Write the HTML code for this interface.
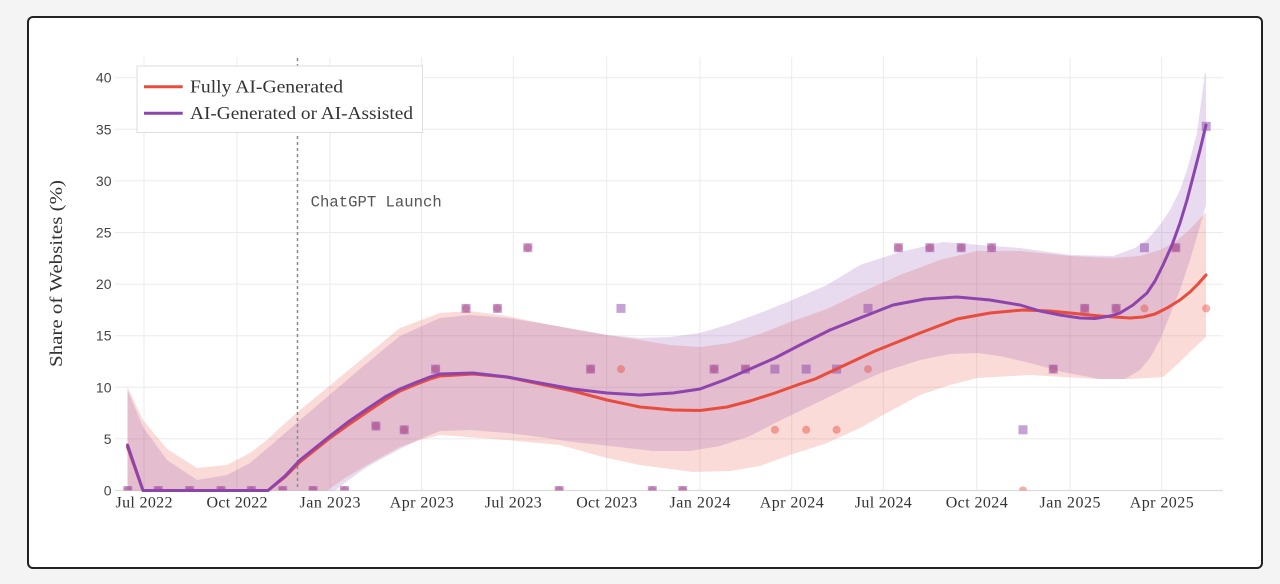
<!DOCTYPE html>
<html>
<head>
<meta charset="utf-8">
<style>
  html,body{margin:0;padding:0;background:#f4f4f4;}
  body{width:1280px;height:584px;overflow:hidden;position:relative;}
  .card{position:absolute;left:27px;top:16px;width:1232px;height:549px;border:2px solid #222;border-radius:6px;background:#fff;}
  svg{position:absolute;left:0;top:0;}
</style>
</head>
<body>
<div class="card"></div>
<svg width="1280" height="584" viewBox="0 0 1280 584" xmlns="http://www.w3.org/2000/svg">
  <defs>
    <clipPath id="plot"><rect x="117" y="57" width="1106" height="433.5"/></clipPath>
  </defs>

  <!-- horizontal gridlines -->
  <g stroke="#ebebeb" stroke-width="1">
    <line x1="115" y1="438.9" x2="1223" y2="438.9"/>
    <line x1="115" y1="387.3" x2="1223" y2="387.3"/>
    <line x1="115" y1="335.7" x2="1223" y2="335.7"/>
    <line x1="115" y1="284.1" x2="1223" y2="284.1"/>
    <line x1="115" y1="232.5" x2="1223" y2="232.5"/>
    <line x1="115" y1="180.9" x2="1223" y2="180.9"/>
    <line x1="115" y1="129.3" x2="1223" y2="129.3"/>
    <line x1="115" y1="77.7" x2="1223" y2="77.7"/>
  </g>
  <!-- vertical gridlines -->
  <g stroke="#ebebeb" stroke-width="1">
    <line x1="144" y1="57" x2="144" y2="490"/>
    <line x1="237" y1="57" x2="237" y2="490"/>
    <line x1="330" y1="57" x2="330" y2="490"/>
    <line x1="421.7" y1="57" x2="421.7" y2="490"/>
    <line x1="513.3" y1="57" x2="513.3" y2="490"/>
    <line x1="606.7" y1="57" x2="606.7" y2="490"/>
    <line x1="700" y1="57" x2="700" y2="490"/>
    <line x1="791.7" y1="57" x2="791.7" y2="490"/>
    <line x1="883.3" y1="57" x2="883.3" y2="490"/>
    <line x1="976.7" y1="57" x2="976.7" y2="490"/>
    <line x1="1070" y1="57" x2="1070" y2="490"/>
    <line x1="1161.7" y1="57" x2="1161.7" y2="490"/>
  </g>
  <line x1="115" y1="490.5" x2="1223" y2="490.5" stroke="#dcdcdc" stroke-width="1.2"/>

  <g clip-path="url(#plot)">
    <!-- red CI band -->
    <polygon fill="rgba(231,76,60,0.2)" points="127.5,387 143,420 167,449 197,468 227,465 250,453 267,440 283,425 300,410 333,383 367,355 400,328 440,313 470,311 507,316 540,323 573,329 607,335 640,340 670,345 700,347 730,343 760,334 790,322 827,309 860,293 900,275 940,260 977,251 1020,251 1070,256 1113,258 1140,256 1160,250 1175,242 1187,232 1197,222 1206,212 1206,337 1195,347 1180,362 1163,377 1130,379 1097,379 1030,375 977,378 950,385 920,395 883,415 860,428 827,443 790,455 760,466 730,471 693,472 640,465 607,458 560,445 507,440 440,435 420,440 400,447 385,455 367,465 345,478 327,490.5 127.5,490.5"/>
    <!-- purple CI band -->
    <polygon fill="rgba(142,68,173,0.2)" points="127.5,390 143,427 167,460 197,480 227,475 250,463 283,435 300,420 333,392 367,363 400,336 440,318 470,315 507,318 540,323 573,329 607,335 640,338 670,337 700,333 730,324 760,313 790,301 827,285 860,265 900,252 943,242 993,246 1020,248 1070,255 1113,256 1135,248 1147,240 1160,225 1170,210 1180,190 1187,170 1197,133 1205,73 1206,73 1206,205 1198,233 1190,260 1180,290 1170,315 1160,340 1150,358 1140,370 1125,379 1100,379 1063,372 1030,363 1000,356 977,353 950,354 920,360 883,372 860,382 837,393 806,408 775,423 750,436 720,446 690,451 653,451 610,446 573,442 540,437 507,433 470,430 440,431 420,439 400,449 385,457 367,467 350,479 335,490.5 127.5,490.5"/>

    <!-- Fully AI points (circles) -->
    <g fill="rgba(231,76,60,0.45)">
      <circle cx="127.8" cy="490.5" r="4"/><circle cx="158.2" cy="490.5" r="4"/><circle cx="189.6" cy="490.5" r="4"/>
      <circle cx="221" cy="490.5" r="4"/><circle cx="251.3" cy="490.5" r="4"/><circle cx="282.7" cy="490.5" r="4"/>
      <circle cx="313.1" cy="490.5" r="4"/><circle cx="344.5" cy="490.5" r="4"/><circle cx="375.9" cy="426" r="4"/>
      <circle cx="404.2" cy="429.8" r="4"/><circle cx="435.6" cy="369.1" r="4"/><circle cx="466" cy="308.4" r="4"/>
      <circle cx="497.4" cy="308.4" r="4"/><circle cx="527.8" cy="247.7" r="4"/><circle cx="559.2" cy="490.5" r="4"/>
      <circle cx="590.6" cy="369.1" r="4"/><circle cx="621" cy="369.1" r="4"/><circle cx="652.3" cy="490.5" r="4"/>
      <circle cx="682.7" cy="490.5" r="4"/><circle cx="714.1" cy="369.1" r="4"/><circle cx="745.5" cy="369.1" r="4"/>
      <circle cx="774.9" cy="429.8" r="4"/><circle cx="806.2" cy="429.8" r="4"/><circle cx="836.6" cy="429.8" r="4"/>
      <circle cx="868" cy="369.1" r="4"/><circle cx="898.4" cy="247.7" r="4"/><circle cx="929.8" cy="247.7" r="4"/>
      <circle cx="961.2" cy="247.7" r="4"/><circle cx="991.6" cy="247.7" r="4"/><circle cx="1023" cy="490.5" r="4"/>
      <circle cx="1053.3" cy="369.1" r="4"/><circle cx="1084.7" cy="308.4" r="4"/><circle cx="1116.1" cy="308.4" r="4"/>
      <circle cx="1144.4" cy="308.4" r="4"/><circle cx="1175.8" cy="247.7" r="4"/><circle cx="1206.2" cy="308.4" r="4"/>
    </g>
    <!-- AI-generated or assisted points (squares) -->
    <g fill="rgba(142,68,173,0.5)">
      <rect x="123.3" y="486" width="9" height="9"/><rect x="153.7" y="486" width="9" height="9"/><rect x="185.1" y="486" width="9" height="9"/>
      <rect x="216.5" y="486" width="9" height="9"/><rect x="246.8" y="486" width="9" height="9"/><rect x="278.2" y="486" width="9" height="9"/>
      <rect x="308.6" y="486" width="9" height="9"/><rect x="340" y="486" width="9" height="9"/><rect x="371.4" y="421.5" width="9" height="9"/>
      <rect x="399.7" y="425.3" width="9" height="9"/><rect x="431.1" y="364.6" width="9" height="9"/><rect x="461.5" y="303.9" width="9" height="9"/>
      <rect x="492.9" y="303.9" width="9" height="9"/><rect x="523.3" y="243.2" width="9" height="9"/><rect x="554.7" y="486" width="9" height="9"/>
      <rect x="586.1" y="364.6" width="9" height="9"/><rect x="616.5" y="303.9" width="9" height="9"/><rect x="647.8" y="486" width="9" height="9"/>
      <rect x="678.2" y="486" width="9" height="9"/><rect x="709.6" y="364.6" width="9" height="9"/><rect x="741" y="364.6" width="9" height="9"/>
      <rect x="770.4" y="364.6" width="9" height="9"/><rect x="801.7" y="364.6" width="9" height="9"/><rect x="832.1" y="364.6" width="9" height="9"/>
      <rect x="863.5" y="303.9" width="9" height="9"/><rect x="893.9" y="243.2" width="9" height="9"/><rect x="925.3" y="243.2" width="9" height="9"/>
      <rect x="956.7" y="243.2" width="9" height="9"/><rect x="987.1" y="243.2" width="9" height="9"/><rect x="1018.5" y="425.3" width="9" height="9"/>
      <rect x="1048.8" y="364.6" width="9" height="9"/><rect x="1080.2" y="303.9" width="9" height="9"/><rect x="1111.6" y="303.9" width="9" height="9"/>
      <rect x="1139.9" y="243.2" width="9" height="9"/><rect x="1171.3" y="243.2" width="9" height="9"/><rect x="1201.7" y="121.8" width="9" height="9"/>
    </g>
  </g>

  <!-- ChatGPT launch line -->
  <line x1="297.5" y1="58" x2="297.5" y2="490" stroke="#8a8a8a" stroke-width="1.5" stroke-dasharray="3,3"/>
  <text x="310.7" y="206.5" font-family="Liberation Mono, monospace" font-size="15.5" fill="#555" textLength="131" lengthAdjust="spacingAndGlyphs">ChatGPT Launch</text>

  <!-- lines -->
  <polyline fill="none" stroke="#e74c3c" stroke-width="3" stroke-linejoin="round" stroke-linecap="round" points="127.5,447 135,468 143,490.5 268,490.5 285,477 300,462 315,450 330,438 348,425 367,412 385,400 400,391 417,384 430,379 440,376 473,374 507,377 540,384 573,391 607,400 640,407 673,410 700,410.5 727,407 750,401 775,393 800,384 815,379 830,372 845,365 860,358 875,351 890,345 920,333 957,319 990,313 1023,310 1050,311 1070,313 1100,316 1130,318 1143,317 1155,314 1167,308 1180,300 1190,292 1198,284 1206,275"/>
  <polyline fill="none" stroke="#8e44ad" stroke-width="3" stroke-linejoin="round" stroke-linecap="round" points="127.5,445 135,467 143,490.5 268,490.5 285,476 300,460 315,448 330,436 348,422 367,409 385,397 400,389 417,382 430,377 440,374 473,373 507,377 540,383 573,389 607,393 640,395 673,393 700,389 727,379 750,369 775,358 800,345 830,330 860,318 893,305 925,299 957,297 990,300 1020,305 1040,311 1060,315 1080,318 1095,318.5 1110,316 1120,313 1133,305 1147,293 1155,281 1163,265 1172,245 1180,223 1187,200 1193,177 1200,150 1206,125"/>

  <!-- y tick labels -->
  <g font-family="Liberation Sans, sans-serif" font-size="14" fill="#444" text-anchor="end">
    <text x="111.5" y="495.5">0</text>
    <text x="111.5" y="443.9">5</text>
    <text x="111.5" y="392.3">10</text>
    <text x="111.5" y="340.7">15</text>
    <text x="111.5" y="289.1">20</text>
    <text x="111.5" y="237.5">25</text>
    <text x="111.5" y="185.9">30</text>
    <text x="111.5" y="134.3">35</text>
    <text x="111.5" y="82.7">40</text>
  </g>

  <!-- x tick labels -->
  <g font-family="Liberation Serif, serif" font-size="16" fill="#333" text-anchor="middle" lengthAdjust="spacingAndGlyphs">
    <text x="144" y="507.5" textLength="57">Jul 2022</text>
    <text x="237" y="507.5" textLength="61">Oct 2022</text>
    <text x="330" y="507.5" textLength="61">Jan 2023</text>
    <text x="421.7" y="507.5" textLength="64">Apr 2023</text>
    <text x="513.3" y="507.5" textLength="57">Jul 2023</text>
    <text x="606.7" y="507.5" textLength="61">Oct 2023</text>
    <text x="700" y="507.5" textLength="61">Jan 2024</text>
    <text x="791.7" y="507.5" textLength="64">Apr 2024</text>
    <text x="883.3" y="507.5" textLength="57">Jul 2024</text>
    <text x="976.7" y="507.5" textLength="62">Oct 2024</text>
    <text x="1070" y="507.5" textLength="61">Jan 2025</text>
    <text x="1161.7" y="507.5" textLength="64">Apr 2025</text>
  </g>

  <!-- y axis title -->
  <text transform="translate(62,273.5) rotate(-90)" font-family="Liberation Serif, serif" font-size="17.5" fill="#333" text-anchor="middle" textLength="187" lengthAdjust="spacingAndGlyphs">Share of Websites (%)</text>

  <!-- legend -->
  <rect x="137" y="66" width="285.5" height="66.5" fill="#fff" stroke="#dedede" stroke-width="1"/>
  <line x1="144" y1="86.7" x2="182.7" y2="86.7" stroke="#e74c3c" stroke-width="3"/>
  <line x1="144" y1="113.3" x2="182.7" y2="113.3" stroke="#8e44ad" stroke-width="3"/>
  <text x="190" y="92.5" font-family="Liberation Serif, serif" font-size="17.5" fill="#333" textLength="153" lengthAdjust="spacingAndGlyphs">Fully AI-Generated</text>
  <text x="190" y="119" font-family="Liberation Serif, serif" font-size="17.5" fill="#333" textLength="223" lengthAdjust="spacingAndGlyphs">AI-Generated or AI-Assisted</text>
</svg>
</body>
</html>
